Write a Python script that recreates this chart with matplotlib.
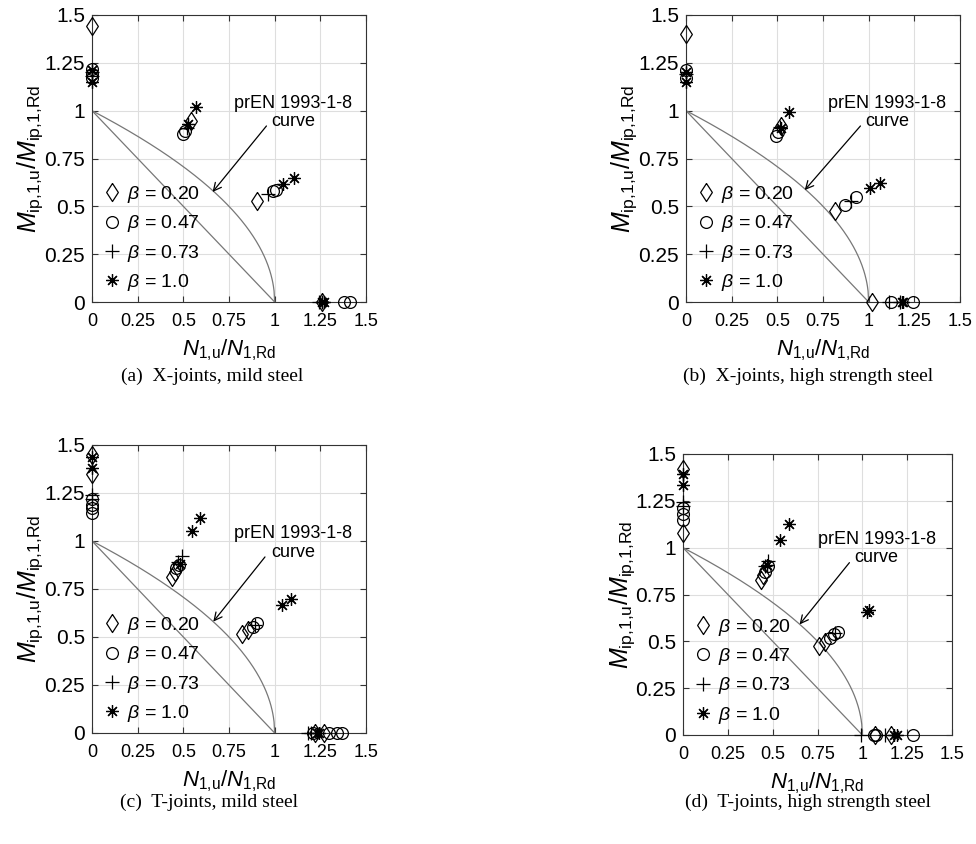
import matplotlib
matplotlib.use('Agg')
import matplotlib.pyplot as plt
import numpy as np
from matplotlib import font_manager

# ---- data (N/N_Rd , M/M_Rd) ----
# (a) X-joints, mild steel
xa_20 = [0, 0.54, 0.905, 1.26]
ya_20 = [1.44, 0.945, 0.53, 0]
xa_47 = [0, 0, 0, 0.50, 0.51, 0.99, 1.005, 1.38, 1.415]
ya_47 = [1.22, 1.19, 1.17, 0.88, 0.895, 0.58, 0.585, 0, 0]
xa_73 = [0, 0, 0.52, 0.965, 1.24, 1.26]
ya_73 = [1.20, 1.18, 0.91, 0.563, 0, 0]
xa_10 = [0, 0, 0.525, 0.57, 1.047, 1.105, 1.26, 1.27]
ya_10 = [1.21, 1.15, 0.93, 1.02, 0.615, 0.647, 0, 0]

# (b) X-joints, high strength steel
xb_20 = [0, 0.52, 0.815, 1.02]
yb_20 = [1.40, 0.92, 0.477, 0]
xb_47 = [0, 0, 0.49, 0.505, 0.87, 0.93, 1.12, 1.245]
yb_47 = [1.21, 1.17, 0.87, 0.89, 0.507, 0.547, 0, 0]
xb_73 = [0, 0.515, 0.905, 1.11, 1.17]
yb_73 = [1.19, 0.915, 0.53, 0, 0]
xb_10 = [0, 0, 0.52, 0.565, 1.01, 1.06, 1.18, 1.19]
yb_10 = [1.15, 1.20, 0.91, 0.995, 0.594, 0.62, 0, 0]

# (c) T-joints, mild steel
xc_20 = [0, 0, 0.436, 0.454, 0.82, 0.855, 1.22, 1.27]
yc_20 = [1.45, 1.35, 0.814, 0.84, 0.515, 0.536, 0, 0]
xc_47 = [0, 0, 0, 0, 0.46, 0.478, 0.883, 0.905, 1.21, 1.30, 1.34, 1.37]
yc_47 = [1.22, 1.19, 1.17, 1.145, 0.858, 0.875, 0.553, 0.571, 0, 0, 0, 0]
xc_73 = [0, 0, 0.47, 0.49, 0.89, 1.18, 1.20]
yc_73 = [1.24, 1.22, 0.89, 0.92, 0.565, 0, 0]
xc_10 = [0, 0, 0.48, 0.545, 0.59, 1.04, 1.087, 1.23, 1.245]
yc_10 = [1.44, 1.38, 0.88, 1.05, 1.12, 0.667, 0.696, 0, 0]

# (d) T-joints, high strength steel
xd_20 = [0, 0, 0.437, 0.446, 0.757, 0.79, 1.07, 1.16]
yd_20 = [1.418, 1.08, 0.83, 0.854, 0.477, 0.498, 0, 0]
xd_47 = [0, 0, 0, 0.455, 0.474, 0.817, 0.844, 0.863, 1.067, 1.075, 1.28]
yd_47 = [1.21, 1.18, 1.148, 0.872, 0.90, 0.516, 0.539, 0.552, 0, 0, 0]
xd_73 = [0, 0, 0.46, 0.474, 0.85, 0.993, 1.128]
yd_73 = [1.246, 1.22, 0.90, 0.93, 0.545, 0, 0]
xd_10 = [0, 0, 0.47, 0.54, 0.59, 1.024, 1.035, 1.178, 1.196]
yd_10 = [1.393, 1.335, 0.91, 1.04, 1.127, 0.658, 0.665, 0, 0]

beta_labels = ['0.20', '0.47', '0.73', '1.0']
ticks = [0, 0.25, 0.5, 0.75, 1, 1.25, 1.5]
tick_labels = ['0', '0.25', '0.5', '0.75', '1', '1.25', '1.5']
captions = ['(a)  X-joints, mild steel', '(b)  X-joints, high strength steel',
            '(c)  T-joints, mild steel', '(d)  T-joints, high strength steel']

plt.rcParams['font.family'] = ['Liberation Sans', 'DejaVu Sans']
plt.rcParams['mathtext.fontset'] = 'custom'
plt.rcParams['mathtext.rm'] = 'Liberation Sans'
plt.rcParams['mathtext.it'] = 'Liberation Sans:italic'

names = {f.name for f in font_manager.fontManager.ttflist}
narrow = 'Liberation Sans Narrow' if 'Liberation Sans Narrow' in names else 'Liberation Sans'

fig = plt.figure(figsize=(9.76, 8.44), dpi=100)
W, H = 976.0, 844.0
# axes boxes in pixels: left, top, right, bottom
boxes = [(92, 15, 366, 302), (686, 15, 960, 302),
         (92, 445, 366, 733), (683, 454, 952, 735)]

series = [
    (xa_20, ya_20, xa_47, ya_47, xa_73, ya_73, xa_10, ya_10),
    (xb_20, yb_20, xb_47, yb_47, xb_73, yb_73, xb_10, yb_10),
    (xc_20, yc_20, xc_47, yc_47, xc_73, yc_73, xc_10, yc_10),
    (xd_20, yd_20, xd_47, yd_47, xd_73, yd_73, xd_10, yd_10),
]
# MATLAB-like diamond (a little taller than wide), circle, plus, asterisk
diamond = [(0, 1), (0.65, 0), (0, -1), (-0.65, 0), (0, 1)]
markers = [diamond, 'o', '+', (8, 2, 0)]
msizes = [13, 8.5, 9.5, 9]

# prEN 1993-1-8 interaction curve and linear line
n = np.linspace(0, 1, 300)
m_curve = np.sqrt(1 - n)

text_pos = [(1.10, 0.99), (1.10, 0.99), (1.10, 0.99), (1.08, 0.995)]
arrow_tail = [(0.955, 0.92), (0.955, 0.92), (0.947, 0.917), (0.928, 0.92)]
arrow_tip = [(0.66, 0.575), (0.65, 0.585), (0.664, 0.58), (0.65, 0.59)]

for i, (l, t, r, b) in enumerate(boxes):
    ax = fig.add_axes([l / W, (H - b) / H, (r - l) / W, (b - t) / H])
    ax.set_xlim(0, 1.5)
    ax.set_ylim(0, 1.5)
    ax.grid(True, color='#dedede', lw=0.8)
    ax.set_axisbelow(True)
    for sp in ax.spines.values():
        sp.set_color('#333333')
        sp.set_linewidth(0.8)
    ax.tick_params(direction='in', length=4, width=0.8, color='#333333',
                   top=True, right=True)
    ax.set_xticks(ticks)
    ax.set_xticklabels(tick_labels, fontfamily=narrow, fontsize=13)
    ax.set_yticks(ticks)
    ax.set_yticklabels(tick_labels, fontsize=15)
    ax.tick_params(axis='x', pad=8)
    ax.tick_params(axis='y', pad=5)

    ax.plot(n, m_curve, color='#777777', lw=0.9)
    ax.plot([0, 1], [1, 0], color='#777777', lw=0.9)

    s = series[i]
    handles = []
    for k in range(4):
        h, = ax.plot(s[2 * k], s[2 * k + 1], ls='none', marker=markers[k],
                     ms=msizes[k], mfc='none', mec='k', mew=0.9,
                     clip_on=False, zorder=5)
        handles.append(h)
    ax.legend(handles, [r'$\beta$ = ' + v for v in beta_labels],
              loc='lower left', bbox_to_anchor=(-0.01, -0.015), frameon=False,
              fontsize=14, handlelength=0.9, handletextpad=0.35,
              labelspacing=0.42, borderaxespad=0.3)

    tx, ty = text_pos[i]
    ax.text(tx, ty, 'prEN 1993-1-8\ncurve', ha='center', va='center',
            fontsize=13, linespacing=1.1)
    ax.annotate('', xy=arrow_tip[i], xytext=arrow_tail[i],
                arrowprops=dict(arrowstyle='->', color='k', lw=0.9,
                                mutation_scale=14, shrinkA=0, shrinkB=0))

    ax.set_xlabel(r'$N_{\mathrm{1{,}u}}/N_{\mathrm{1{,}Rd}}$', fontsize=16)
    ax.set_ylabel(r'$M_{\mathrm{ip{,}1{,}u}}/M_{\mathrm{ip{,}1{,}Rd}}$', fontsize=18)
    ax.xaxis.set_label_coords(0.5, -0.125)
    ax.yaxis.set_label_coords(-0.17, 0.5)

    cx = [212, 808, 209, 808][i]
    cy = [376, 376, 802, 802][i]
    fig.text(cx / W, 1 - cy / H, captions[i], ha='center', va='center',
             fontfamily='Liberation Serif', fontsize=14)

fig.savefig('out.png', dpi=100)
